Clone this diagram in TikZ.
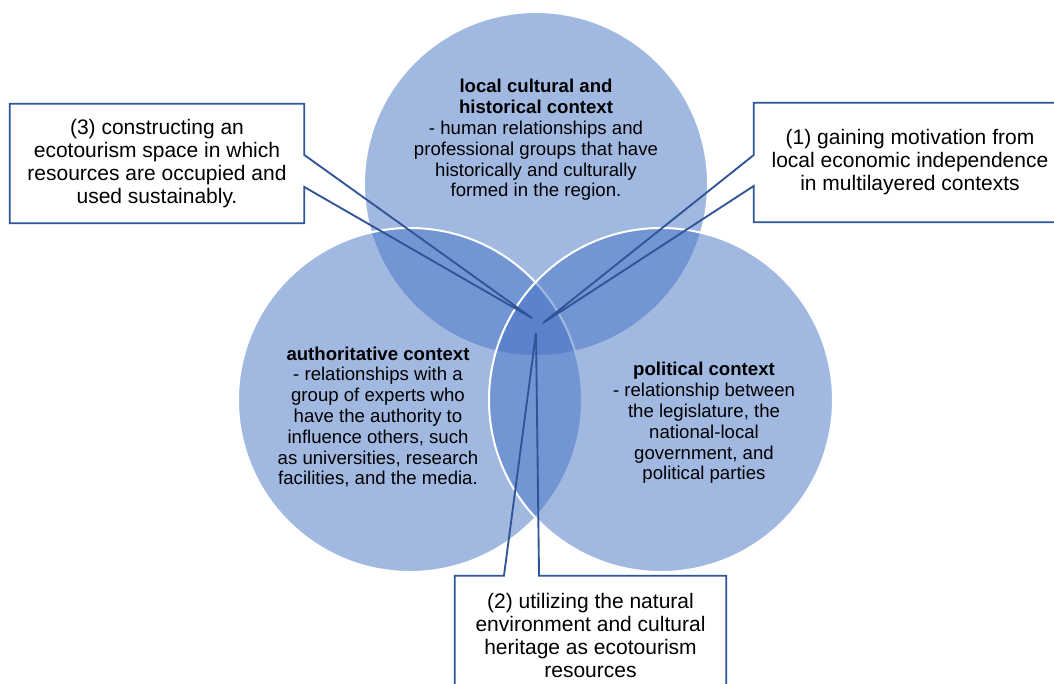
\documentclass[tikz,border=0pt]{standalone}
\usepackage{fontspec}
\setmainfont{Liberation Sans}
\definecolor{vennblue}{HTML}{4472C4}
\definecolor{calloutline}{HTML}{2F5597}

\begin{document}
\begin{tikzpicture}[x=0.75pt,y=-0.75pt,
  ring/.style={circle,fill=vennblue,fill opacity=0.5,draw=white,line width=1.5pt,minimum size=258pt,inner sep=0pt},
  venntext/.style={align=center,font=\fontsize{13.95}{15.6}\selectfont},
  callbox/.style={align=center,fill=white,inner sep=0pt,font=\fontsize{15.75}{17.25}\selectfont},
  outline/.style={draw=calloutline,line width=1.4pt}]

       \useasboundingbox (0,0) rectangle (1054,684);
       \clip (0,0) rectangle (1054,684);

       % the three contexts
       \node[ring] (cult) at (536,184) {};
       \node[ring] (auth) at (410,400) {};
       \node[ring] (pol) at (661,400) {};

       \node[venntext] (cult-text) at (536,140) {\textbf{local cultural and}\\\textbf{historical context}\\- human relationships and\\professional groups that have\\historically and culturally\\formed in the region.};
       \node[venntext] (auth-text) at (378,417) {\textbf{authoritative context}\\- relationships with a\\group of experts who\\have the authority to\\influence others, such\\as universities, research\\facilities, and the media.};
       \node[venntext] (pol-text) at (704,423) {\textbf{political context}\\- relationship between\\the legislature, the\\national-local\\government, and\\political parties};

       % callouts pointing into the middle
       \coordinate (p1) at (543,323);
       \coordinate (p2) at (536,333);
       \coordinate (p3) at (532,318);

       \node[callbox,minimum width=234pt,minimum height=89.25pt] (box1) at (910,162.5) {(1) gaining motivation from\\local economic independence\\in multilayered contexts};
       \node[callbox,minimum width=203.25pt,minimum height=88.5pt] (box2) at (590.5,635) {(2) utilizing the natural\\environment and cultural\\heritage as ecotourism\\resources};
       \node[callbox,minimum width=220.5pt,minimum height=89.25pt] (box3) at (157,163.5) {(3) constructing an\\ecotourism space in which\\resources are occupied and\\used sustainably.};

       \draw[outline] (box1.north east) -- (box1.north west) -- ([yshift=5.6pt]box1.west) -- (p1) -- ([yshift=-17.6pt]box1.west) -- (box1.south west) -- (box1.south east) -- cycle;
       \draw[outline] (box2.south west) -- (box2.north west) -- ([xshift=-64.9pt]box2.north) -- (p2) -- ([xshift=-38.6pt]box2.north) -- (box2.north east) -- (box2.south east) -- cycle;
       \draw[outline] (box3.north west) -- (box3.north east) -- ([yshift=6.4pt]box3.east) -- (p3) -- ([yshift=-17.6pt]box3.east) -- (box3.south east) -- (box3.south west) -- cycle;
     \end{tikzpicture}
\end{document}
